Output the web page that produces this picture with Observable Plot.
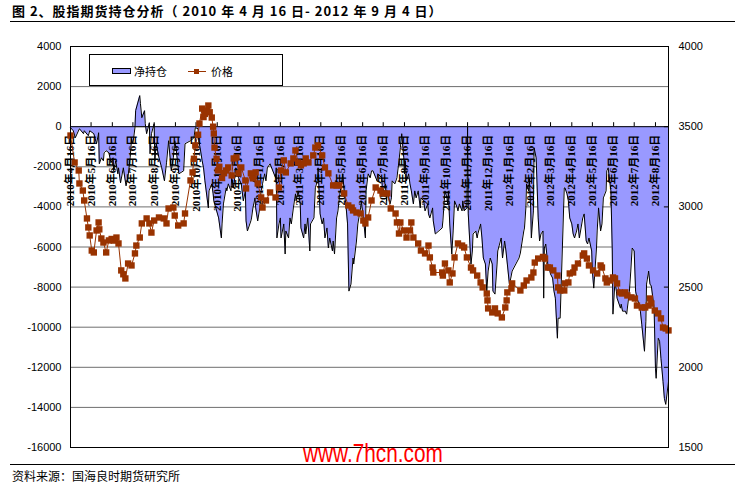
<!DOCTYPE html>
<html><head><meta charset="utf-8">
<script src="https://cdn.jsdelivr.net/npm/d3@7"></script>
<script src="https://cdn.jsdelivr.net/npm/@observablehq/plot@0.6"></script>
<style>
html,body{margin:0;padding:0;background:#fff;}
#wrap{position:relative;width:749px;height:487px;overflow:hidden;font-family:"Noto Sans CJK SC",sans-serif;color:#000;}
#chart{position:absolute;left:0;top:0;}
.title{position:absolute;left:12px;top:2px;font-size:13px;font-weight:bold;white-space:pre;line-height:18px;letter-spacing:1px;}
.hline{position:absolute;left:10px;width:725px;height:0;border-top:1.5px solid #000;}
.legend{position:absolute;left:89px;top:54px;width:194px;height:32px;box-sizing:border-box;border:1px solid #000;background:#fff;}
.legend .t{position:absolute;font-size:11px;line-height:12px;top:10px;white-space:nowrap;}
.footer{position:absolute;left:12px;top:469px;font-size:12px;line-height:14px;white-space:pre;}
.wm{position:absolute;left:303px;top:438px;font-family:"Liberation Sans",Arial,sans-serif;font-size:26px;line-height:30px;color:#ff0000;transform:scaleX(0.8);transform-origin:0 0;white-space:nowrap;}
</style></head><body>
<div id="wrap">
  <div id="chart"></div>
  <div class="title">图 2、股指期货持仓分析（ 2010 年 4 月 16 日- 2012 年 9 月 4 日）</div>
  <div class="hline" style="top:21px"></div>
  <div class="legend">
    <div style="position:absolute;left:22px;top:13px;width:19px;height:6px;box-sizing:border-box;background:#9999ff;border:1px solid #000"></div>
    <div class="t" style="left:44px">净持仓</div>
    <div style="position:absolute;left:98px;top:16px;width:18px;height:1px;background:#993300"></div>
    <div style="position:absolute;left:104px;top:14px;width:5px;height:5px;background:#993300"></div>
    <div class="t" style="left:121px">价格</div>
  </div>
  <div class="hline" style="top:464px"></div>
  <div class="footer">资料来源：国海良时期货研究所</div>
  <div class="wm">www.7hcn.com</div>
</div>
<script>
// ---- axis ticks ----
const leftTicks = [4000, 2000, 0, -2000, -4000, -6000, -8000, -10000, -12000, -14000, -16000];
const rightTicks = [4000, 3500, 3000, 2500, 2000, 1500];
const tickDates = ["2010-04-16","2010-05-16","2010-06-16","2010-07-16","2010-08-16","2010-09-16","2010-10-16","2010-11-16","2010-12-16",
  "2011-01-16","2011-02-16","2011-03-16","2011-04-16","2011-05-16","2011-06-16","2011-07-16","2011-08-16","2011-09-16","2011-10-16","2011-11-16","2011-12-16",
  "2012-01-16","2012-02-16","2012-03-16","2012-04-16","2012-05-16","2012-06-16","2012-07-16","2012-08-16"];
const startDate = "2010-04-16", endDate = "2012-09-04";

// ---- 净持仓 (net position, left axis) ----
const netDates = [
"2010-04-16","2010-04-20","2010-04-23","2010-04-29","2010-05-05","2010-05-06","2010-05-12","2010-05-14","2010-05-20","2010-05-24","2010-05-27","2010-05-28","2010-05-31",
"2010-06-03","2010-06-04","2010-06-07","2010-06-11","2010-06-14","2010-06-17","2010-06-18","2010-06-21","2010-06-24","2010-06-25","2010-06-28",
"2010-07-02","2010-07-06","2010-07-09","2010-07-12","2010-07-14","2010-07-16","2010-07-19","2010-07-20","2010-07-26","2010-07-27","2010-07-29",
"2010-08-02","2010-08-03","2010-08-05","2010-08-09","2010-08-10","2010-08-12","2010-08-16","2010-08-17","2010-08-19","2010-08-23","2010-08-27","2010-08-31",
"2010-09-03","2010-09-06","2010-09-10","2010-09-13","2010-09-15","2010-09-17","2010-09-21","2010-09-28","2010-09-30",
"2010-10-08","2010-10-13","2010-10-15","2010-10-19","2010-10-20","2010-10-22","2010-10-25","2010-10-27","2010-10-29",
"2010-11-03","2010-11-04","2010-11-08","2010-11-10","2010-11-11","2010-11-18","2010-11-22","2010-11-23","2010-11-25","2010-11-29","2010-11-30",
"2010-12-02","2010-12-06","2010-12-07","2010-12-10","2010-12-13","2010-12-17","2010-12-21","2010-12-24","2010-12-27","2010-12-28","2010-12-30",
"2011-01-04","2011-01-05","2011-01-07","2011-01-10","2011-01-11","2011-01-14","2011-01-17","2011-01-19","2011-01-21","2011-01-24","2011-01-26","2011-01-28",
"2011-02-01","2011-02-09","2011-02-10","2011-02-11","2011-02-14","2011-02-16","2011-02-17","2011-02-21","2011-02-23","2011-02-24","2011-02-28",
"2011-03-02","2011-03-04","2011-03-07","2011-03-10","2011-03-11","2011-03-14","2011-03-17","2011-03-18","2011-03-22","2011-03-24","2011-03-25","2011-03-28","2011-03-31",
"2011-04-01","2011-04-06","2011-04-08","2011-04-11","2011-04-12","2011-04-15","2011-04-18","2011-04-20","2011-04-22","2011-04-25","2011-04-27","2011-04-29",
"2011-05-03","2011-05-04","2011-05-06","2011-05-09","2011-05-11","2011-05-13","2011-05-16","2011-05-18","2011-05-20","2011-05-23","2011-05-25","2011-05-27","2011-05-30",
"2011-06-02","2011-06-03","2011-06-07","2011-06-09","2011-06-13","2011-06-14","2011-06-17","2011-06-20","2011-06-21","2011-06-24","2011-06-27","2011-06-29",
"2011-07-01","2011-07-07","2011-07-08","2011-07-14","2011-07-15","2011-07-19","2011-07-21","2011-07-22","2011-07-26","2011-07-28","2011-07-29",
"2011-08-02","2011-08-05","2011-08-08","2011-08-10","2011-08-12","2011-08-15","2011-08-16","2011-08-17","2011-08-19","2011-08-22","2011-08-24","2011-08-26","2011-08-29","2011-08-31",
"2011-09-02","2011-09-05","2011-09-08","2011-09-09","2011-09-13","2011-09-15","2011-09-19","2011-09-20","2011-09-22","2011-09-26","2011-09-27","2011-09-30",
"2011-10-10","2011-10-11","2011-10-12","2011-10-13","2011-10-14","2011-10-17","2011-10-18","2011-10-19","2011-10-21","2011-10-24","2011-10-26","2011-10-28",
"2011-11-01","2011-11-02","2011-11-04","2011-11-08","2011-11-09","2011-11-11","2011-11-15","2011-11-16","2011-11-17","2011-11-21","2011-11-23","2011-11-24","2011-11-28","2011-11-30",
"2011-12-01","2011-12-05","2011-12-07","2011-12-09","2011-12-12","2011-12-14","2011-12-16","2011-12-19","2011-12-22","2011-12-23","2011-12-26","2011-12-29","2011-12-30",
"2012-01-04","2012-01-05","2012-01-06","2012-01-09","2012-01-11","2012-01-13","2012-01-16","2012-01-18","2012-01-20","2012-01-30",
"2012-02-01","2012-02-03","2012-02-06","2012-02-07","2012-02-09","2012-02-10","2012-02-13","2012-02-14","2012-02-16","2012-02-17","2012-02-20","2012-02-21","2012-02-24","2012-02-27","2012-02-29",
"2012-03-02","2012-03-05","2012-03-06","2012-03-07","2012-03-09","2012-03-12","2012-03-14","2012-03-16","2012-03-19","2012-03-21","2012-03-23","2012-03-26","2012-03-27","2012-03-30",
"2012-04-05","2012-04-06","2012-04-09","2012-04-11","2012-04-13","2012-04-16","2012-04-18","2012-04-20","2012-04-23","2012-04-25","2012-04-27",
"2012-05-02","2012-05-04","2012-05-07","2012-05-09","2012-05-11","2012-05-15","2012-05-16","2012-05-18","2012-05-22","2012-05-23","2012-05-25","2012-05-28","2012-05-30",
"2012-06-01","2012-06-05","2012-06-06","2012-06-08","2012-06-12","2012-06-14","2012-06-15","2012-06-18","2012-06-20","2012-06-21","2012-06-26","2012-06-27","2012-06-29",
"2012-07-03","2012-07-05","2012-07-09","2012-07-11","2012-07-13","2012-07-16","2012-07-18","2012-07-20","2012-07-23","2012-07-25","2012-07-27","2012-07-31",
"2012-08-02","2012-08-03","2012-08-06","2012-08-08","2012-08-10","2012-08-14","2012-08-16","2012-08-17","2012-08-20","2012-08-22","2012-08-24","2012-08-27","2012-08-29","2012-08-31","2012-09-04"];
const netValues = [
-50,-200,-550,-100,-350,-200,-450,-200,-350,-850,-300,-1850,-1550,
-1700,-1300,-1200,-1300,-1800,-1550,-2200,-1700,-2350,-2050,-2800,
-2050,-2950,-2450,-1550,-600,-850,-50,800,1550,1150,450,
800,150,-350,200,-1350,-350,150,-1700,-850,-1550,-2050,-2700,
-1800,-700,-2200,-1550,-700,-1100,-2350,-2200,-850,
-700,-550,-50,-100,-700,-1050,-1700,-2050,-2700,
-4050,-3200,-2850,-3350,-3700,-4550,-5550,-4850,-3850,-3050,-3200,
-2850,-3200,-2550,-3050,-2050,-2550,-2850,-3700,-3200,-4700,-5200,
-4700,-4550,-4050,-3550,-4050,-4700,-4050,-3200,-2850,-2350,-2700,-2050,
-1850,-2550,-2050,-5550,-4850,-4550,-5550,-4850,-6350,-5200,-5550,
-4550,-4850,-4050,-3350,-3700,-3200,-3850,-5050,-5550,-4850,-5350,-4550,-6200,
-4850,-4550,-3050,-2700,-2050,-4350,-4850,-4550,-5550,-5050,-6050,-5550,
-6200,-5700,-6350,-4550,-4200,-3550,-2850,-2350,-3200,-4050,-4850,-8200,-7850,
-6550,-6850,-5700,-4850,-4050,-3700,-4550,-5550,-3200,-2350,-2550,-2200,
-2200,-2700,-2350,-2550,-3350,-2850,-3700,-3200,-3850,-3550,-2700,
-2850,-2550,-1700,-1050,-350,-1550,-2350,-1700,-2700,-2350,-2850,-3200,-3850,-3200,
-3550,-3200,-4050,-3550,-3700,-4200,-3850,-4350,-4550,-4050,-4700,-5350,
-5050,-4700,-4200,-3700,-3200,-3550,-3850,-3200,-4850,-6350,-5200,-3700,
-4050,-4200,-3850,-4200,-3700,-4200,-4050,0,-4350,-6850,-6200,-5350,-5200,-5550,
-5350,-4850,-5550,-6550,-6850,-8200,-7200,-6550,-6850,-8200,-8350,-6850,-6200,
-5550,-6050,-6550,-5700,-6200,-6850,-7850,-7550,-7200,-6550,
-6300,-5850,-5200,-5050,-4050,-2850,-3200,-2550,-4050,-5550,-4200,-1050,-1550,-4550,-5700,
-5350,-5200,-8550,-6050,-5850,-6850,-7050,-7350,-7550,-8200,-8550,-10550,-9550,-9550,
-3050,-3050,-3350,-3700,-4550,-4850,-5350,-5550,-5200,-4850,-5550,
-4550,-4350,-5700,-5850,-5550,-6200,-7200,-8050,-6050,-5200,-4050,-5200,-4850,
-3550,-3200,-2200,-2050,-3200,-6200,-9350,-7700,-8200,-8550,-9050,-8850,-9200,
-9200,-9350,-8200,-7200,-6050,-6200,-8200,-8550,-8850,-9200,-9850,-11200,
-9700,-7850,-7200,-7850,-7950,-9050,-12050,-12550,-10550,-10700,-11550,-12700,-13550,-13850,-12700];

// ---- 价格 (price, right axis) ----
const priceDates = [
"2010-04-16","2010-04-22","2010-04-28","2010-04-29","2010-05-04","2010-05-06","2010-05-10","2010-05-12","2010-05-14","2010-05-17","2010-05-20","2010-05-24","2010-05-27","2010-05-28","2010-05-31",
"2010-06-03","2010-06-07","2010-06-11","2010-06-15","2010-06-18","2010-06-22","2010-06-25","2010-06-29",
"2010-07-02","2010-07-05","2010-07-09","2010-07-14","2010-07-19","2010-07-21","2010-07-26","2010-07-29",
"2010-08-05","2010-08-09","2010-08-12","2010-08-16","2010-08-23","2010-08-30",
"2010-09-03","2010-09-06","2010-09-13","2010-09-15","2010-09-20","2010-09-28","2010-09-30",
"2010-10-08","2010-10-11","2010-10-13","2010-10-15","2010-10-19","2010-10-21","2010-10-25","2010-10-27","2010-10-29",
"2010-11-01","2010-11-03","2010-11-05","2010-11-08","2010-11-10","2010-11-11","2010-11-12","2010-11-15","2010-11-17","2010-11-19","2010-11-23","2010-11-26","2010-11-29",
"2010-12-02","2010-12-07","2010-12-10","2010-12-14","2010-12-17","2010-12-21","2010-12-27","2010-12-28",
"2011-01-04","2011-01-07","2011-01-11","2011-01-14","2011-01-19","2011-01-21","2011-01-26",
"2011-02-01","2011-02-09","2011-02-14","2011-02-17","2011-02-21","2011-02-24",
"2011-03-03","2011-03-07","2011-03-10","2011-03-14","2011-03-18","2011-03-22","2011-03-25","2011-03-29",
"2011-04-05","2011-04-08","2011-04-12","2011-04-18","2011-04-22","2011-04-27",
"2011-05-04","2011-05-09","2011-05-13","2011-05-20","2011-05-26","2011-05-31",
"2011-06-02","2011-06-07","2011-06-13","2011-06-17","2011-06-20","2011-06-24","2011-06-29",
"2011-07-05","2011-07-12","2011-07-15","2011-07-22","2011-07-27",
"2011-08-03","2011-08-05","2011-08-08","2011-08-10","2011-08-15","2011-08-19","2011-08-24","2011-08-26","2011-08-29",
"2011-09-05","2011-09-09","2011-09-15","2011-09-20","2011-09-22","2011-09-26","2011-09-27",
"2011-10-10","2011-10-11","2011-10-14","2011-10-19","2011-10-21","2011-10-25","2011-10-28",
"2011-11-02","2011-11-08","2011-11-11","2011-11-15","2011-11-21","2011-11-24","2011-11-30",
"2011-12-05","2011-12-08","2011-12-14","2011-12-15","2011-12-16","2011-12-22","2011-12-26","2011-12-30",
"2012-01-05","2012-01-10","2012-01-12","2012-01-13","2012-01-19","2012-01-20",
"2012-02-01","2012-02-06","2012-02-10","2012-02-17","2012-02-20","2012-02-22","2012-02-27",
"2012-03-05","2012-03-08","2012-03-12","2012-03-15","2012-03-20","2012-03-26","2012-03-27","2012-03-30",
"2012-04-05","2012-04-06","2012-04-11","2012-04-13","2012-04-18","2012-04-20","2012-04-25",
"2012-05-02","2012-05-04","2012-05-08","2012-05-11","2012-05-17","2012-05-23","2012-05-28","2012-05-30",
"2012-06-04","2012-06-06","2012-06-11","2012-06-15","2012-06-18","2012-06-21","2012-06-25","2012-06-28",
"2012-07-03","2012-07-06","2012-07-12","2012-07-17","2012-07-20","2012-07-27",
"2012-08-01","2012-08-06","2012-08-08","2012-08-10","2012-08-15","2012-08-20","2012-08-24","2012-08-27","2012-08-31","2012-09-04"];
const priceValues = [
3445,3277,3227,3146,3102,3040,2928,2872,2822,2728,2716,2853,2903,2860,2803,
2778,2716,2791,2800,2790,2809,2772,2604,
2580,2554,2647,2635,2710,2759,2809,2897,
2928,2897,2840,2915,2934,2928,
2897,2990,2996,2946,2884,2897,2959,
3165,3215,3300,3383,3450,3520,3613,3560,3580,
3600,3632,3590,3557,3500,3458,3370,3300,3227,3250,3180,3210,3227,
3246,3196,3302,3308,3209,3246,3165,3115,
3209,3178,3215,3146,3059,2996,3040,
3090,3059,3121,3227,3290,3215,
3271,3302,3352,3277,3259,3271,3302,3277,
3321,3370,3383,3321,3246,3209,
3134,3134,3134,3084,3009,2996,
2978,2965,2959,2915,2897,2934,3040,
3121,3102,3084,3084,2990,
2959,2903,2834,2903,2853,2809,2853,2903,2809,
2772,2728,2710,2759,2685,2622,2591,
2591,2572,2647,2604,2529,2585,2685,
2772,2759,2747,2685,2622,2604,2572,
2529,2498,2460,2417,2367,2342,2367,2336,
2311,2373,2417,2467,2491,2523,
2479,2510,2541,2560,2591,2653,2678,
2688,2678,2622,2622,2604,2572,2498,2479,
2479,2523,2529,2585,2591,2622,2647,
2697,2710,2678,2635,2604,2585,2635,2622,
2554,2529,2541,2560,2554,2523,2467,2460,
2467,2448,2436,2429,2385,2373,
2373,2385,2429,2398,2354,2336,2305,2248,2242,2230];

// ---- build ----
const parse = s => new Date(s + "T00:00:00Z");
const net = netDates.map((d, i) => ({date: parse(d), v: netValues[i]}));
const price = priceDates.map((d, i) => ({date: parse(d), p: priceValues[i]}));
const ticks = tickDates.map(parse);
const tickLabel = d => `${d.getUTCFullYear()}年${d.getUTCMonth() + 1}月${d.getUTCDate()}日`;
// right axis (1500..4000) mapped onto left axis (-16000..4000)
const toLeft = p => (p - 1500) * 8 - 16000;
const fromLeft = v => Math.round((v + 16000) / 8 + 1500);

const chart = Plot.plot({
  width: 749, height: 487,
  marginLeft: 70, marginRight: 81, marginTop: 46, marginBottom: 40,
  style: {fontFamily: "'Liberation Sans', Arial, sans-serif", fontSize: "11px", color: "#000", background: "transparent", overflow: "visible"},
  x: {type: "utc", domain: [parse(startDate), parse(endDate)], axis: null},
  y: {domain: [-16000, 4000], axis: null, label: null},
  marks: [
    Plot.ruleY(leftTicks, {stroke: "#6e6e6e", strokeWidth: 1}),
    Plot.areaY(net, {x: "date", y: "v", fill: "#9999ff"}),
    Plot.lineY(net, {x: "date", y: "v", stroke: "#000", strokeWidth: 1}),
    Plot.ruleY([0], {stroke: "#000", strokeWidth: 1}),
    Plot.ruleX(ticks, {x: d => d, y1: 0, y2: 200, stroke: "#000"}),
    Plot.text(ticks, {x: d => d, y: 0, dy: 8, rotate: -90, textAnchor: "end", text: tickLabel,
      fontFamily: "'Liberation Serif', 'Noto Sans CJK SC', serif", fontSize: 11, fontWeight: "bold", fill: "#000"}),
    Plot.lineY(price, {x: "date", y: d => toLeft(d.p), stroke: "#993300", strokeWidth: 1}),
    Plot.dot(price, {x: "date", y: d => toLeft(d.p), symbol: "square", r: 3.6, fill: "#993300", stroke: "none"}),
    Plot.ruleY(rightTicks.map(toLeft), {x1: parse("2012-08-29"), x2: parse(endDate), stroke: "#000"}),
    Plot.axisY({anchor: "left", ticks: leftTicks, tickSize: 0, tickPadding: 9, tickFormat: d => String(d), label: null}),
    Plot.axisY({anchor: "right", ticks: rightTicks.map(toLeft), tickSize: 0, tickPadding: 10, tickFormat: v => String(fromLeft(v)), label: null}),
    Plot.frame({stroke: "#000"})
  ]
});
document.getElementById("chart").appendChild(chart);
</script>
</body></html>
